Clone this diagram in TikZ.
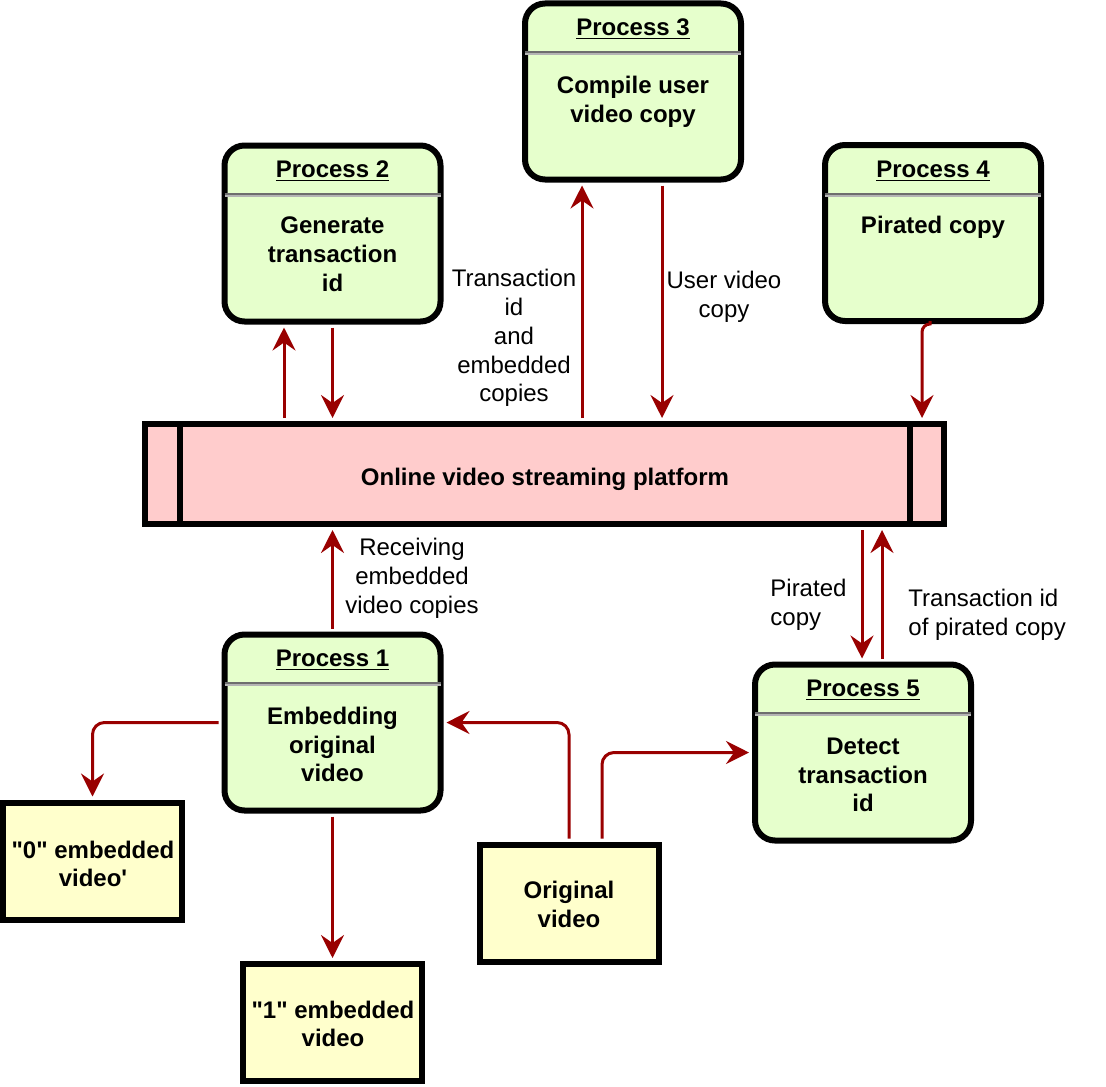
\documentclass[tikz,border=0pt]{standalone}
\usepackage{fontspec}
\setmainfont{Liberation Sans}
\usetikzlibrary{arrows.meta,calc}
\definecolor{procfill}{HTML}{E6FFCC}
\definecolor{platfill}{HTML}{FFCCCC}
\definecolor{storefill}{HTML}{FFFFCC}
\definecolor{flowred}{HTML}{990000}
\definecolor{sepdark}{HTML}{6E6E6E}
\definecolor{seplight}{HTML}{B4B4B4}
\newcommand{\procbox}[6]{%
  \node[proc] (#1) at (#2,#3) {};
  \node[btext] (#1h) at ($(#1.north)+(0,29)$) {\underline{#4}};
  \draw[sepA] ($(#1.north west)+(3,51.5)$) -- ($(#1.north east)+(-3,51.5)$);
  \draw[sepB] ($(#1.north west)+(3,53.5)$) -- ($(#1.north east)+(-3,53.5)$);
  \node[btext] (#1b) at ($(#1.north)+(0,#6)$) {#5};
}
\begin{document}
\begin{tikzpicture}[x=0.5pt,y=-0.5pt,
  proc/.style={draw, line width=3pt, fill=procfill, rounded corners=10pt,
    minimum width=108pt, minimum height=88pt, inner sep=0pt},
  plat/.style={draw, line width=3pt, fill=platfill, minimum width=399.5pt,
    minimum height=50pt, inner sep=0pt},
  store/.style={draw, line width=3pt, fill=storefill, minimum width=89.5pt,
    minimum height=58.5pt, inner sep=0pt},
  btext/.style={font=\fontsize{12}{14.4}\selectfont\bfseries, align=center, inner sep=0pt},
  lbl/.style={font=\fontsize{12}{14.4}\selectfont, align=center, inner sep=0pt},
  sepA/.style={draw=sepdark, line width=1pt},
  sepB/.style={draw=seplight, line width=1pt},
  divider/.style={draw=black, line width=3pt},
  flow/.style={draw=flowred, line width=1.5pt,
    -{Stealth[length=11.5pt,width=11.5pt,inset=4pt]},
    shorten >=1.5pt, shorten <=1.5pt, rounded corners=6pt}
]
\useasboundingbox (0,0) rectangle (1106,1086);

% platform
\node[plat] (plat) at (544.5,474) {};
\draw[divider] ($(plat.north west)+(38,0)$) -- ($(plat.south west)+(38,0)$);
\draw[divider] ($(plat.north east)+(-37,0)$) -- ($(plat.south east)+(-37,0)$);
\node[btext] (platt) at (545,479) {Online video streaming platform};

% processes
\procbox{p1}{332.5}{722.5}{Process 1}{Embedding\\original\\video}{113}
\procbox{p2}{332.5}{233.5}{Process 2}{Generate\\transaction\\id}{111.5}
\procbox{p3}{633}{91.5}{Process 3}{Compile user\\video copy}{101.5}
\procbox{p4}{933}{233}{Process 4}{Pirated copy}{85.5}
\procbox{p5}{863}{752.5}{Process 5}{Detect\\transaction\\id}{113.5}

% stores
\node[store] (y0) at (92.5,861) {};
\node[btext] (y0t) at (93,864) {\textquotedbl0\textquotedbl{} embedded\\video\textquotesingle};
\node[store] (y1) at (332.5,1022.5) {};
\node[btext] (y1t) at (333,1024) {\textquotedbl1\textquotedbl{} embedded\\video};
\node[store] (orig) at (569,903) {};
\node[btext] (origt) at (569,904.5) {Original\\video};

% connectors
\coordinate (p2L) at ($(p2.south)+(-48.5,0)$);
\draw[flow] (p2L |- plat.north) -- (p2L);
\draw[flow] (p2.south) -- (p2.south |- plat.north);

\coordinate (p3L) at ($(p3.south)+(-51,0)$);
\coordinate (p3R) at ($(p3.south)+(29,0)$);
\draw[flow] (p3L |- plat.north) -- (p3L);
\draw[flow] (p3R) -- (p3R |- plat.north);

\coordinate (p4o) at ($(p4.south)+(-3,0)$);
\coordinate (p4d) at ($(p4.south)+(-11,0)$);
\draw[flow, rounded corners=4pt] (p4o) -| (p4d |- plat.north);

\draw[flow] (p1.north) -- (p1.north |- plat.south);

\coordinate (p5L) at ($(p5.north)+(-1,0)$);
\coordinate (p5R) at ($(p5.north)+(19,0)$);
\draw[flow] (p5L |- plat.south) -- (p5L);
\draw[flow] (p5R) -- (p5R |- plat.south);

\draw[flow] (p1.west) -| (y0.north);
\draw[flow] (p1.south) -- (y1.north);
\draw[flow] (orig.north) |- (p1.east);
\coordinate (origR) at ($(orig.north)+(33,0)$);
\draw[flow] (origR) |- (p5.west);

% labels
\node[lbl] (l1) at (514,338) {Transaction\\id\\and\\embedded\\copies};
\node[lbl] (l2) at (724,296.5) {User video\\copy};
\node[lbl] (l3) at (412,578) {Receiving\\embedded\\video copies};
\node[lbl, align=left, anchor=west] (l4) at (770,604.5) {Pirated\\copy};
\node[lbl, align=left, anchor=west] (l5) at (908,614.5) {Transaction id\\of pirated copy};
\end{tikzpicture}
\end{document}
